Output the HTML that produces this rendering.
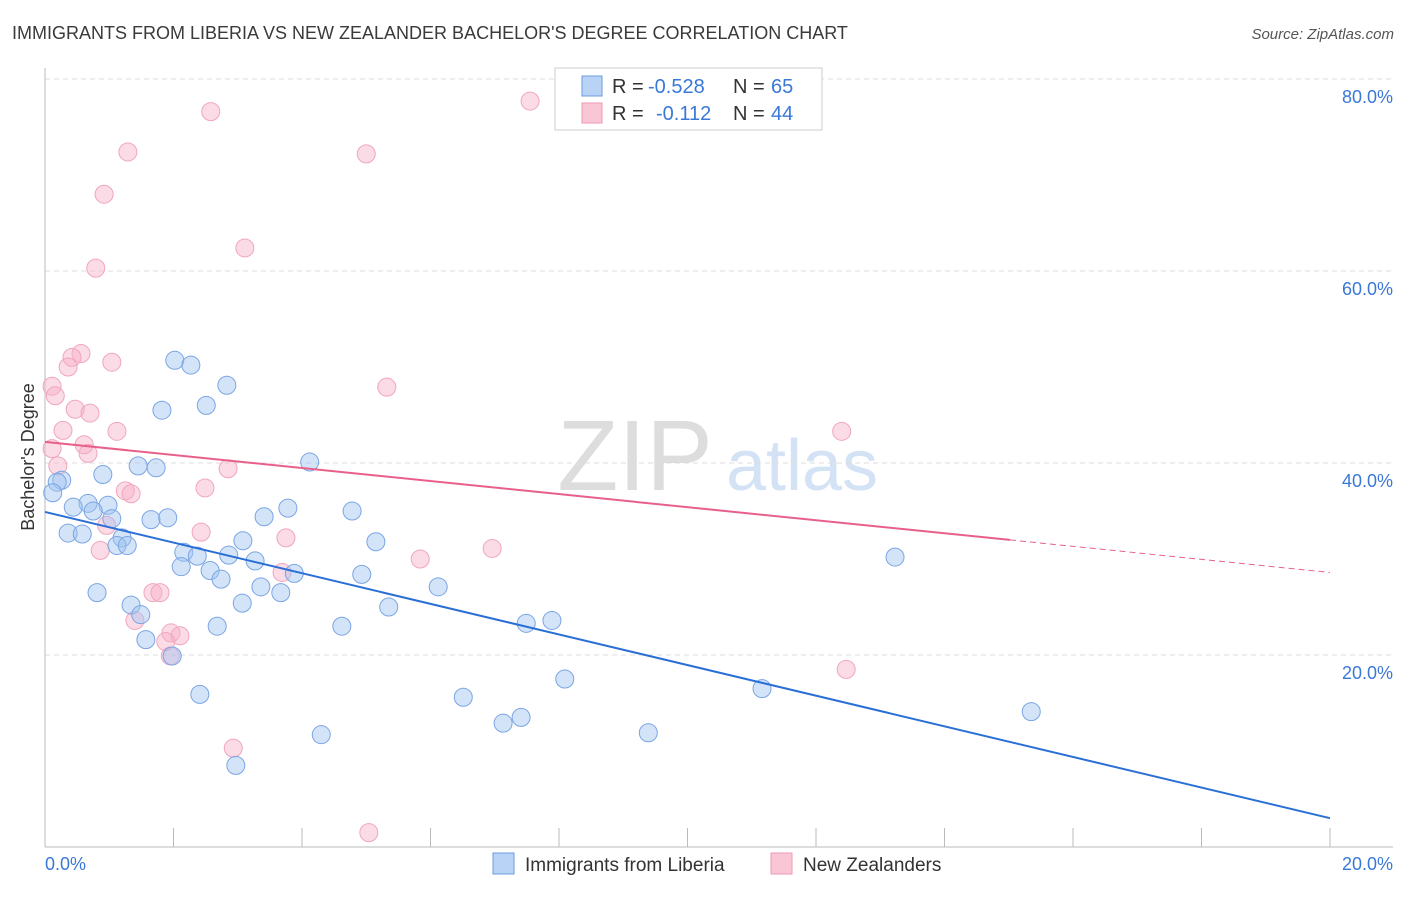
<!DOCTYPE html>
<html><head><meta charset="utf-8"><style>
body{margin:0;background:#fff;font-family:"Liberation Sans",sans-serif;}
svg text{font-family:"Liberation Sans",sans-serif;}
</style></head><body>
<svg id="c" width="1406" height="892">
<text x="12" y="39" font-size="18" fill="#3a3a3a">IMMIGRANTS FROM LIBERIA VS NEW ZEALANDER BACHELOR'S DEGREE CORRELATION CHART</text>
<text x="1394" y="39" font-size="15" fill="#555" font-style="italic" text-anchor="end">Source: ZipAtlas.com</text>
<text x="635" y="490" font-size="100" fill="#ddd" font-family="Liberation Serif" text-anchor="middle">ZIP</text>
<text x="802" y="490" font-size="72" fill="#d3e2f5" text-anchor="middle">atlas</text>
<text transform="translate(34,457) rotate(-90)" font-size="18" fill="#333" text-anchor="middle">Bachelor's Degree</text>
<g id="grid"></g><g id="pts"></g><g id="lines"></g>
<g>
<rect x="555" y="68" width="267" height="62" fill="#fff" stroke="#ccc"/>
<rect x="582" y="76" width="20" height="20" fill="#b8d3f5" stroke="#6c9be0"/>
<rect x="582" y="103" width="20" height="20" fill="#f9c6d5" stroke="#ee9ab3"/>
<text x="612" y="93" font-size="20" fill="#333">R =</text>
<text x="648" y="93" font-size="20" fill="#3a78d8">-0.528</text>
<text x="733" y="93" font-size="20" fill="#333">N =</text>
<text x="771" y="93" font-size="20" fill="#3a78d8">65</text>
<text x="612" y="120" font-size="20" fill="#333">R =</text>
<text x="656" y="120" font-size="20" fill="#3a78d8">-0.112</text>
<text x="733" y="120" font-size="20" fill="#333">N =</text>
<text x="771" y="120" font-size="20" fill="#3a78d8">44</text>
</g>
<g>
<rect x="493" y="853" width="21" height="21" fill="#b8d3f5" stroke="#6c9be0"/>
<text x="525" y="871" font-size="19" fill="#333">Immigrants from Liberia</text>
<rect x="771" y="853" width="21" height="21" fill="#f9c6d5" stroke="#ee9ab3"/>
<text x="803" y="871" font-size="19" fill="#333">New Zealanders</text>
</g>
</svg>
<script>
const xTicks=[0,20];
const yTicks=[20,40,60,80];
const blueX=[2.02,2.27,2.83,1.82,2.51,4.12,1.45,1.73,0.90,0.26,0.19,0.12,0.67,0.98,0.44,0.75,3.78,4.78,3.41,1.04,1.65,1.91,0.36,0.58,1.20,3.08,5.15,1.12,1.28,2.16,2.37,2.86,3.27,2.12,2.57,2.74,3.88,4.93,13.23,3.36,6.12,0.81,3.67,3.07,1.34,5.35,1.49,7.89,7.49,2.68,4.62,1.57,1.98,8.09,6.51,11.16,2.41,7.41,7.13,15.35,4.30,9.39,2.97];
const blueY=[50.7,50.2,48.1,45.5,46.0,40.1,39.7,39.5,38.8,38.2,38.0,36.9,35.8,35.6,35.4,35.0,35.3,35.0,34.4,34.2,34.1,34.3,32.7,32.6,32.2,31.9,31.8,31.4,31.4,30.7,30.3,30.4,29.8,29.2,28.8,27.9,28.5,28.4,30.2,27.1,27.1,26.5,26.5,25.4,25.2,25.0,24.2,23.6,23.3,23.0,23.0,21.6,19.9,17.5,15.6,16.5,15.9,13.5,12.9,14.1,11.7,11.9,8.5];
const pinkX=[7.55,2.58,1.29,5.00,0.92,3.11,0.79,0.56,0.42,0.36,1.04,0.11,0.16,5.32,0.47,0.70,0.28,1.12,12.40,0.11,0.61,0.67,0.20,2.85,2.49,1.25,1.34,0.96,2.43,3.75,0.86,6.96,5.84,3.69,1.68,1.79,1.40,1.96,2.10,1.88,1.95,12.47,2.93,5.04];
const pinkY=[77.7,76.6,72.4,72.2,68.0,62.4,60.3,51.4,51.0,50.0,50.5,48.0,47.0,47.9,45.6,45.2,43.4,43.3,43.3,41.5,41.9,41.0,39.7,39.4,37.4,37.1,36.8,33.5,32.8,32.2,30.9,31.1,30.0,28.6,26.5,26.5,23.6,22.3,22.0,21.4,19.9,18.5,10.3,1.5];
const blueFit=[34.9,-1.595];
const pinkFit=[42.2,-0.68];
const NS='http://www.w3.org/2000/svg';
const X=v=>45+v/20*1285, Y=v=>847-v*9.6;
function mk(t,a,p){const e=document.createElementNS(NS,t);for(const k in a)e.setAttribute(k,a[k]);p.appendChild(e);return e;}
const grid=document.getElementById('grid'),pts=document.getElementById('pts'),lines=document.getElementById('lines');
yTicks.forEach(v=>{
 const l=mk('line',{x1:45,x2:1393,y1:Y(v),y2:Y(v),stroke:'#ddd','stroke-dasharray':'5,4'},grid);
 
 
 const t=mk('text',{x:1393,y:Y(v)+24,'font-size':18,fill:'#3a78d8','text-anchor':'end'},grid);t.textContent=v.toFixed(1)+'%';
 
 
});
const ax=mk('line',{x1:45,x2:45,y1:68,y2:847,stroke:'#bbb'},grid);


const bx=mk('line',{x1:45,x2:1393,y1:847,y2:847,stroke:'#bbb'},grid);


for(let i=0;i<=10;i++){const tk=mk('line',{x1:X(i*2),x2:X(i*2),y1:828,y2:847,stroke:'#bbb'},grid);
 
 }
xTicks.forEach((v,i)=>{const t=mk('text',{x:i?1393:45,y:870,'font-size':18,fill:'#3a78d8','text-anchor':i?'end':'start'},grid);t.textContent=v.toFixed(1)+'%';
 
 });
pinkX.forEach((v,i)=>{const c=mk('circle',{cx:X(v),cy:Y(pinkY[i]),r:9,fill:'rgba(246,176,198,0.45)',stroke:'#f0a6bd','stroke-width':1},pts);
 
 });
blueX.forEach((v,i)=>{const c=mk('circle',{cx:X(v),cy:Y(blueY[i]),r:9,fill:'rgba(160,195,240,0.45)',stroke:'#7aa5e4','stroke-width':1},pts);
 
 });
const b=mk('line',{x1:X(0),y1:Y(blueFit[0]),x2:X(20),y2:Y(blueFit[0]+blueFit[1]*20),stroke:'#2a6fd6','stroke-width':2},lines);


const p=mk('line',{x1:X(0),y1:Y(pinkFit[0]),x2:X(15.02),y2:Y(pinkFit[0]+pinkFit[1]*15.02),stroke:'#e8608a','stroke-width':2},lines);


const pd=mk('line',{x1:X(15.02),y1:Y(pinkFit[0]+pinkFit[1]*15.02),x2:X(20),y2:Y(pinkFit[0]+pinkFit[1]*20),stroke:'#e8608a','stroke-width':1,'stroke-dasharray':'6,4'},lines);


</script>
</body></html>
